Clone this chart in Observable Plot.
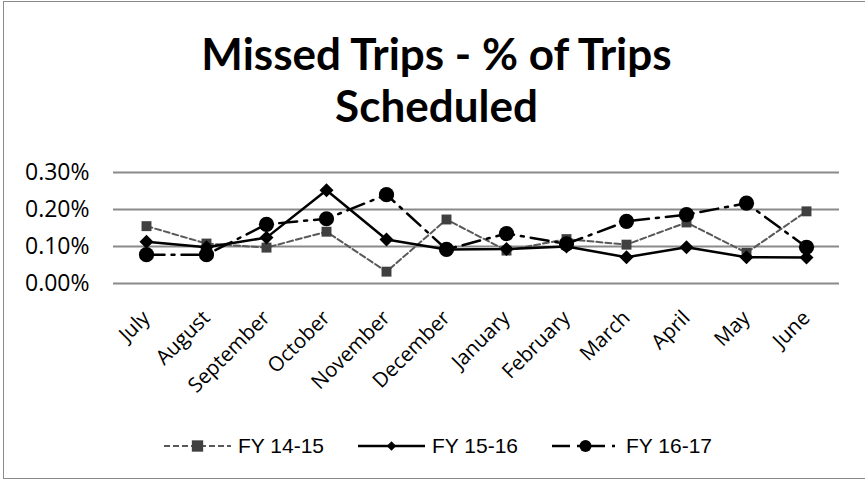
<!DOCTYPE html>
<html>
<head>
<meta charset="utf-8">
<script src="https://cdn.jsdelivr.net/npm/d3@7"></script>
<script src="https://cdn.jsdelivr.net/npm/@observablehq/plot@0.6"></script>
<style>
  html, body { margin: 0; padding: 0; background: #fff; }
  #wrap { position: relative; width: 865px; height: 482px; overflow: hidden; background: #fff; }
  #border { position: absolute; left: 3px; top: 1px; width: 880px; height: 478px; border: 1.5px solid #8a8a8a; box-sizing: border-box; }
  #title { position: absolute; left: 3px; width: 867px; top: 27px; text-align: center; font-family: Lato, sans-serif; font-weight: 700; font-size: 44px; line-height: 52px; color: #000; }
  #chart { position: absolute; left: 0; top: 0; }
  #legend { position: absolute; left: 164px; top: 434px; display: flex; align-items: center; gap: 34px; font-family: "Liberation Sans", Arial, sans-serif; font-size: 21px; color: #000; }
  .item { display: flex; align-items: center; }
  .item svg { margin-right: 7px; }
</style>
</head>
<body>
<div id="wrap">
  <div id="border"></div>
  <div id="chart"></div>
  <div id="title">Missed Trips - % of Trips<br>Scheduled</div>
  <div id="legend"></div>
</div>
<script>
const months = ["July","August","September","October","November","December","January","February","March","April","May","June"];
const seriesNames = ["FY 14-15","FY 15-16","FY 16-17"];
const fy1415 = [0.155,0.108,0.097,0.140,0.032,0.173,0.089,0.120,0.105,0.165,0.083,0.195];
const fy1516 = [0.113,0.098,0.124,0.252,0.119,0.092,0.093,0.100,0.071,0.098,0.071,0.070];
const fy1617 = [0.078,0.078,0.160,0.175,0.240,0.092,0.135,0.107,0.168,0.186,0.217,0.098];
const yTicks = [0, 0.1, 0.2, 0.3];

const styles = [
  {stroke: "#595959", strokeWidth: 2, dash: "6,3", symbol: "square", r: 5.6, fill: "#404040", lr: 6.4},
  {stroke: "#000000", strokeWidth: 2.5, dash: null, symbol: "diamond2", r: 6.3, fill: "#000000", lr: 4.3},
  {stroke: "#000000", strokeWidth: 2.5, dash: "18,7,3,7", symbol: "circle", r: 7.6, fill: "#000000", lr: 6}
];
const values = [fy1415, fy1516, fy1617];
const tables = values.map(vs => months.map((m, i) => ({month: m, v: vs[i]})));

const marks = [
  Plot.ruleY(yTicks, {stroke: "#8a8a8a", strokeWidth: 2}),
  Plot.axisY({ticks: yTicks, tickFormat: d => d.toFixed(2) + "%", tickSize: 0, tickPadding: 24, fontSize: 23, label: null, line: true, stroke: "#8a8a8a", strokeWidth: 2, fill: "#000"}),
  Plot.axisX({tickSize: 0, tickRotate: -45, tickPadding: 31, dx: 0, fontSize: 20.5, label: null, fill: "#000"})
];
tables.forEach((t, k) => {
  const s = styles[k];
  marks.push(Plot.lineY(t, {x: "month", y: "v", stroke: s.stroke, strokeWidth: s.strokeWidth, strokeDasharray: s.dash, strokeLinejoin: "round"}));
  marks.push(Plot.dot(t, {x: "month", y: "v", symbol: s.symbol, r: s.r, fill: s.fill, stroke: "none"}));
});

const chart = Plot.plot({
  width: 865,
  height: 430,
  marginLeft: 113,
  marginRight: 26,
  marginTop: 172,
  marginBottom: 147,
  x: {type: "point", domain: months, padding: 0.5},
  y: {domain: [0, 0.3]},
  style: {fontFamily: "'Open Sans', sans-serif", background: "transparent", color: "#000", overflow: "visible"},
  marks
});
document.getElementById("chart").appendChild(chart);

// legend
const legend = d3.select("#legend");
seriesNames.forEach((name, k) => {
  const s = styles[k];
  const item = legend.append("div").attr("class", "item");
  const svg = item.append("svg").attr("width", 67).attr("height", 20);
  svg.append("line").attr("x1", 0).attr("x2", 67).attr("y1", 10).attr("y2", 10)
    .attr("stroke", s.stroke).attr("stroke-width", s.strokeWidth)
    .attr("stroke-dasharray", s.dash);
  const sym = {square: d3.symbolSquare, diamond2: d3.symbolDiamond2, circle: d3.symbolCircle}[s.symbol];
  svg.append("path").attr("transform", "translate(33.5,10)")
    .attr("d", d3.symbol(sym, Math.PI * s.lr * s.lr)())
    .attr("fill", s.fill);
  item.append("span").text(name);
});
</script>
</body>
</html>
